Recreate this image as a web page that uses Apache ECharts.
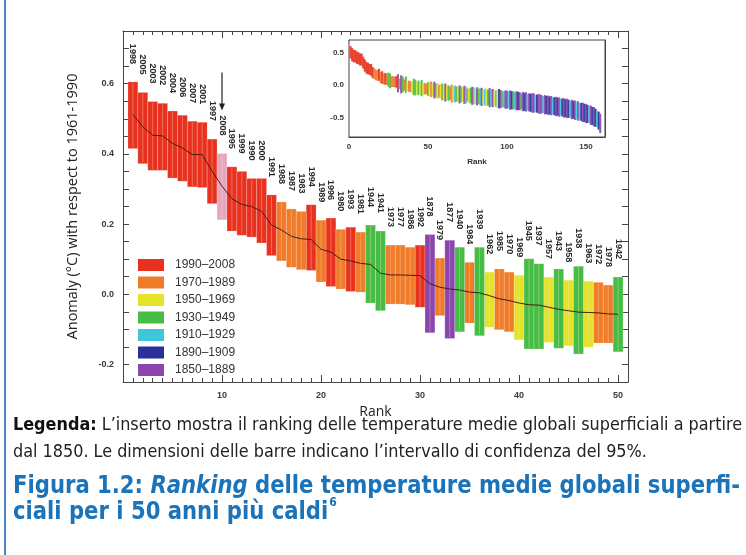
<!DOCTYPE html>
<html><head><meta charset="utf-8">
<script src="https://cdn.jsdelivr.net/npm/echarts@6/dist/echarts.min.js"></script>
<style>html,body{margin:0;padding:0;background:#fff}#c{width:746px;height:555px}</style>
</head><body><div id="c"></div>
<script>
// ===================== DATA =====================
const years = [1998,2005,2003,2002,2004,2006,2007,2001,1997,2008,
               1995,1999,1990,2000,1991,1988,1987,1983,1994,1989,
               1996,1980,1993,1981,1944,1941,1973,1977,1986,1992,
               1878,1979,1877,1940,1984,1939,1962,1985,1970,1969,
               1945,1937,1957,1943,1958,1938,1963,1972,1978,1942];
const upper = [0.605,0.575,0.549,0.544,0.522,0.510,0.493,0.490,0.442,0.401,
               0.363,0.350,0.330,0.330,0.283,0.263,0.243,0.236,0.255,0.211,
               0.217,0.185,0.191,0.177,0.197,0.180,0.140,0.140,0.134,0.140,
               0.170,0.103,0.154,0.134,0.091,0.134,0.063,0.072,0.063,0.054,
               0.101,0.087,0.049,0.072,0.040,0.080,0.037,0.034,0.026,0.049];
const center = [0.512,0.477,0.453,0.451,0.430,0.417,0.398,0.398,0.350,0.308,
                0.272,0.256,0.250,0.236,0.197,0.183,0.165,0.158,0.156,0.128,
                0.120,0.100,0.095,0.088,0.085,0.060,0.055,0.055,0.054,0.053,
                0.030,0.020,0.015,0.012,0.006,0.004,-0.004,-0.013,-0.018,-0.025,
                -0.030,-0.031,-0.037,-0.043,-0.047,-0.051,-0.052,-0.053,-0.056,-0.057];
const lower = [0.415,0.372,0.353,0.353,0.331,0.322,0.306,0.304,0.258,0.212,
               0.180,0.168,0.163,0.146,0.110,0.095,0.077,0.070,0.068,0.035,
               0.022,0.015,0.008,0.006,-0.025,-0.047,-0.028,-0.028,-0.030,-0.037,
               -0.110,-0.061,-0.126,-0.107,-0.082,-0.118,-0.094,-0.101,-0.107,-0.130,
               -0.156,-0.156,-0.137,-0.154,-0.147,-0.170,-0.151,-0.139,-0.139,-0.164];
const highlightYear = 2008;
const periodLabels = ['1990–2008','1970–1989','1950–1969','1930–1949','1910–1929','1890–1909','1850–1889'];
const periodStart  = [1990,1970,1950,1930,1910,1890,1850];

// inset: ranks 51..159 (ranks 1..50 come from the arrays above)
const insetCenterTail = [
 -0.060,-0.063,-0.069,-0.074,-0.079,-0.088,-0.092,-0.095,-0.104,-0.107,
 -0.112,-0.118,-0.120,-0.123,-0.129,-0.131,-0.134,-0.136,-0.138,-0.141,
 -0.142,-0.145,-0.148,-0.152,-0.153,-0.158,-0.160,-0.163,-0.164,-0.169,
 -0.171,-0.172,-0.177,-0.179,-0.181,-0.186,-0.188,-0.190,-0.191,-0.196,
 -0.198,-0.201,-0.206,-0.208,-0.209,-0.214,-0.216,-0.217,-0.221,-0.223,
 -0.226,-0.230,-0.231,-0.235,-0.238,-0.240,-0.242,-0.247,-0.249,-0.252,
 -0.256,-0.258,-0.263,-0.265,-0.270,-0.273,-0.275,-0.280,-0.284,-0.287,
 -0.291,-0.295,-0.297,-0.302,-0.304,-0.309,-0.313,-0.315,-0.320,-0.324,
 -0.328,-0.331,-0.337,-0.340,-0.343,-0.349,-0.355,-0.358,-0.364,-0.370,
 -0.375,-0.379,-0.386,-0.392,-0.397,-0.405,-0.412,-0.420,-0.427,-0.436,
 -0.444,-0.452,-0.463,-0.474,-0.486,-0.502,-0.521,-0.548,-0.590];
const insetHalfTail = [
 0.11,0.12,0.10,0.13,0.11,0.12,0.10,0.11,0.13,0.12,
 0.14,0.11,0.12,0.10,0.14,0.12,0.13,0.12,0.11,0.14,
 0.12,0.11,0.14,0.13,0.10,0.12,0.12,0.14,0.13,0.11,
 0.14,0.12,0.13,0.14,0.11,0.13,0.14,0.12,0.15,0.13,
 0.14,0.11,0.13,0.14,0.15,0.14,0.12,0.13,0.14,0.14,
 0.13,0.15,0.14,0.14,0.13,0.15,0.14,0.14,0.12,0.15,
 0.14,0.15,0.13,0.14,0.14,0.15,0.15,0.13,0.14,0.15,
 0.15,0.14,0.13,0.15,0.14,0.15,0.14,0.15,0.13,0.14,
 0.15,0.14,0.15,0.13,0.14,0.15,0.14,0.15,0.14,0.13,
 0.15,0.14,0.15,0.14,0.15,0.13,0.14,0.15,0.14,0.15,
 0.14,0.13,0.15,0.14,0.15,0.14,0.13,0.14,0.15];
const insetPeriodTail = [
 2,1,2,6,3,2,1,2,3,2,
 6,2,3,1,1,2,4,3,2,6,
 3,2,6,4,1,2,3,6,4,2,
 6,3,4,6,2,4,2,3,6,4,
 6,2,4,2,5,6,3,4,6,6,
 4,6,5,3,4,6,5,6,3,6,
 5,6,4,6,5,6,6,4,5,6,
 6,6,4,6,5,6,5,6,4,5,
 6,5,6,4,5,6,5,6,5,4,
 6,5,6,4,6,4,5,6,5,6,
 5,4,6,5,6,5,4,5,6];

const yAxisTitle = 'Anomaly (°C) with respect to 1961-1990';
const xAxisTitle = 'Rank';
const captionBold = 'Legenda:';
const captionRest1 = ' L’inserto mostra il ranking delle temperature medie globali superficiali a partire';
const captionLine2 = 'dal 1850. Le dimensioni delle barre indicano l’intervallo di confidenza del 95%.';
const titleA = 'Figura 1.2: ';
const titleB = 'Ranking';
const titleC = ' delle temperature medie globali superfi-';
const titleLine2 = 'ciali per i 50 anni più caldi';
const titleSup = '6';

// ===================== STYLE =====================
const periodColors = ['#e8311f','#f07b29','#e5e22a','#46bd44','#3fc6da','#2b2f98','#8a45ae'];
const highlightColor = '#e6a6c0';
const NARROW = '"Liberation Sans Narrow","DejaVu Sans Condensed","Liberation Sans",Arial,sans-serif';
const SANS = '"Liberation Sans",Arial,sans-serif';
const TITLE_BLUE = '#1b73ba';

function periodOf(y){ for (let i=0;i<periodStart.length;i++){ if (y>=periodStart[i]) return i; } return periodStart.length-1; }
function measure(str, font){ const c=document.createElement('canvas').getContext('2d'); c.font=font; return c.measureText(str).width; }

// ===================== BUILD =====================
const chart = echarts.init(document.getElementById('c'), null, {renderer:'canvas'});

const barSeries = periodLabels.map((name, p) => {
  const data = [];
  years.forEach((y, i) => { if (periodOf(y) === p) data.push([i+1, lower[i], upper[i], y]); });
  return {
    type:'custom', name, xAxisIndex:0, yAxisIndex:0, z:2,
    itemStyle:{color:periodColors[p]},
    encode:{x:0, y:[1,2]},
    data,
    renderItem(params, api){
      const r=api.value(0), lo=api.value(1), hi=api.value(2), yr=api.value(3);
      const a=api.coord([r-0.5, hi]), b=api.coord([r+0.5, lo]);
      const fill = yr===highlightYear ? highlightColor : periodColors[p];
      const cx=(a[0]+b[0])/2;
      return {type:'group', children:[
        {type:'rect', shape:{x:a[0], y:a[1], width:b[0]-a[0], height:b[1]-a[1]}, style:{fill, stroke:'rgba(255,255,255,0.35)', lineWidth:0.6}},
        {type:'line', shape:{x1:cx, y1:a[1]+1, x2:cx, y2:b[1]-1}, style:{stroke:'rgba(255,230,200,0.35)', lineWidth:1}}
      ]};
    }
  };
});

const labelSeries = {
  type:'custom', name:'labels', xAxisIndex:0, yAxisIndex:0, z:4, silent:true,
  encode:{x:0, y:1},
  data: years.map((y,i)=>[i+1, upper[i], y]),
  renderItem(params, api){
    const r=api.value(0), hi=api.value(1), yr=api.value(2);
    const p=api.coord([r, hi]);
    const gap=18;
    const kids=[{type:'text', x:p[0], y:p[1]-gap, rotation:-Math.PI/2,
      style:{text:String(yr), align:'right', verticalAlign:'middle', fontSize:9, fontWeight:'bold', fontFamily:SANS, fill:'#2a2a2a'}}];
    if (yr===highlightYear){
      const y2=p[1]-gap-25, y1=y2-38;
      kids.push({type:'line', shape:{x1:p[0], y1, x2:p[0], y2:y2-5}, style:{stroke:'#222', lineWidth:1.2}});
      kids.push({type:'polygon', shape:{points:[[p[0]-3,y2-7],[p[0]+3,y2-7],[p[0],y2]]}, style:{fill:'#222'}});
    }
    return {type:'group', children:kids};
  }
};

const centerLine = {
  type:'line', name:'centre', xAxisIndex:0, yAxisIndex:0, z:3, silent:true,
  data: center.map((v,i)=>[i+1, v]), symbol:'none',
  lineStyle:{color:'#4a1c10', width:1}
};

// inset
const insetData = [];
for (let i=0;i<years.length;i++) insetData.push([i+1, lower[i], upper[i], periodOf(years[i])]);
for (let j=0;j<insetCenterTail.length;j++) insetData.push([51+j, insetCenterTail[j]-insetHalfTail[j], insetCenterTail[j]+insetHalfTail[j], insetPeriodTail[j]]);
const insetSeries = {
  type:'custom', name:'inset', xAxisIndex:2, yAxisIndex:2, z:5, silent:true,
  encode:{x:0, y:[1,2]}, data:insetData,
  renderItem(params, api){
    const r=api.value(0), lo=api.value(1), hi=api.value(2), p=api.value(3);
    const a=api.coord([r-0.65, hi]), b=api.coord([r+0.65, lo]);
    return {type:'rect', shape:{x:a[0], y:a[1], width:b[0]-a[0], height:b[1]-a[1]}, style:{fill:periodColors[p], opacity:0.9}};
  }
};

const axisColor = '#444';
const tickLab = {color:'#3a3a3a', fontSize:9, fontWeight:'bold', fontFamily:SANS};
function yFmt(v){ const r=Math.round(v*100); if (r%20!==0) return ''; return (Math.abs(v)<1e-9?0:v).toFixed(1); }
function insetYFmt(v){ const r=Math.round(v*10); if (r%5!==0) return ''; return (Math.abs(v)<1e-9?0:v).toFixed(1); }

const mainX = (pos, showLab) => ({
  gridIndex:0, type:'value', min:0, max:51, interval:10, position:pos,
  axisLine:{onZero:false, lineStyle:{color:axisColor, width:1}},
  axisTick:{inside:true, length:7, lineStyle:{color:axisColor}},
  minorTick:{show:true, splitNumber:10, length:4, lineStyle:{color:axisColor}},
  splitLine:{show:false},
  axisLabel:{show:showLab, showMinLabel:false, showMaxLabel:false, margin:9, ...tickLab, formatter:v=>String(v)},
  name: showLab ? xAxisTitle : '', nameLocation:'middle', nameGap:22,
  nameTextStyle:{fontSize:14, color:'#222', fontFamily:'"Open Sans",sans-serif'}
});
const mainY = (pos, showLab) => ({
  gridIndex:0, type:'value', min:-0.25, max:0.75, interval:0.05, position:pos,
  axisLine:{onZero:false, lineStyle:{color:axisColor, width:1}},
  axisTick:{inside:true, length:6, lineStyle:{color:axisColor}},
  splitLine:{show:false},
  axisLabel:{show:showLab, margin:9, ...tickLab, formatter:yFmt},
  name: showLab ? yAxisTitle : '', nameLocation:'middle', nameGap:43, nameRotate:90,
  nameTextStyle:{fontSize:14.5, color:'#222', fontFamily:'"Open Sans",sans-serif'}
});
const insetX = (pos, showLab) => ({
  gridIndex:1, type:'value', min:0, max:162, interval:50, position:pos,
  axisLine:{onZero:false, lineStyle:{color:axisColor}},
  axisTick:{inside:true, length:4, lineStyle:{color:axisColor}},
  minorTick:{show:true, splitNumber:5, length:2, lineStyle:{color:axisColor}},
  splitLine:{show:false},
  axisLabel:{show:showLab, showMaxLabel:false, margin:6, color:'#3a3a3a', fontSize:8, fontWeight:'bold', fontFamily:SANS},
  name: showLab ? xAxisTitle : '', nameLocation:'middle', nameGap:21,
  nameTextStyle:{fontSize:8, fontWeight:'bold', color:'#333', fontFamily:SANS}
});
const insetY = (pos, showLab) => ({
  gridIndex:1, type:'value', min:-0.8, max:0.7, interval:0.1, position:pos,
  axisLine:{onZero:false, lineStyle:{color:axisColor}},
  axisTick:{inside:true, length:3, lineStyle:{color:axisColor}},
  splitLine:{show:false},
  axisLabel:{show:showLab, margin:5, color:'#3a3a3a', fontSize:8, fontWeight:'bold', fontFamily:SANS, formatter:insetYFmt}
});

// caption / title graphics with width fitting
const F_CAP = 17, F_TIT = 24;
const capW1 = measure(captionBold, `bold ${F_CAP}px ${NARROW}`) + measure(captionRest1, `${F_CAP}px ${NARROW}`);
const titW1 = measure(titleA, `bold ${F_TIT}px ${NARROW}`) + measure(titleB, `italic bold ${F_TIT}px ${NARROW}`) + measure(titleC, `bold ${F_TIT}px ${NARROW}`);
const titW2 = measure(titleLine2, `bold ${F_TIT}px ${NARROW}`);
const capScale = 729 / capW1;
const titScale = 727 / titW1;

const graphics = [
  {type:'line', shape:{x1:5, y1:0, x2:5, y2:555}, style:{stroke:'#4b86c6', lineWidth:2}, z:10},
  {type:'text', x:13, y:426, scaleX:capScale, style:{
     text:'{b|'+captionBold+'}{n|'+captionRest1+'}', verticalAlign:'middle',
     rich:{b:{fontWeight:'bold', fontSize:F_CAP, fontFamily:NARROW, fill:'#111'}, n:{fontSize:F_CAP, fontFamily:NARROW, fill:'#222'}}}},
  {type:'text', x:13, y:453, scaleX:capScale, style:{text:captionLine2, fontSize:F_CAP, fontFamily:NARROW, fill:'#222', verticalAlign:'middle'}},
  {type:'text', x:13, y:487, scaleX:titScale, style:{
     text:'{a|'+titleA+'}{b|'+titleB+'}{a|'+titleC+'}', verticalAlign:'middle',
     rich:{a:{fontWeight:'bold', fontSize:F_TIT, fontFamily:NARROW, fill:TITLE_BLUE}, b:{fontWeight:'bold', fontStyle:'italic', fontSize:F_TIT, fontFamily:NARROW, fill:TITLE_BLUE}}}},
  {type:'text', x:13, y:513, scaleX:titScale, style:{text:titleLine2, fontWeight:'bold', fontSize:F_TIT, fontFamily:NARROW, fill:TITLE_BLUE, verticalAlign:'middle'}},
  {type:'text', x:13 + titW2*titScale + 1, y:503, style:{text:titleSup, fontWeight:'bold', fontSize:12, fontFamily:NARROW, fill:TITLE_BLUE, verticalAlign:'middle'}}
];

chart.setOption({
  animation:false,
  backgroundColor:'#fff',
  grid:[
    {left:123, top:31, width:505, height:351, show:false},
    {left:349, top:40, width:256, height:97, show:true, backgroundColor:'#fff', borderColor:'#444', borderWidth:1, z:4}
  ],
  xAxis:[mainX('bottom', true), mainX('top', false), insetX('bottom', true), insetX('top', false)],
  yAxis:[mainY('left', true), mainY('right', false), insetY('left', true), insetY('right', false)],
  legend:{
    data:periodLabels, orient:'vertical', left:138, top:259, itemWidth:26, itemHeight:12, itemGap:5.5,
    icon:'rect', selectedMode:false, padding:0,
    textStyle:{fontSize:12, color:'#333', fontFamily:SANS, lineHeight:12, padding:[0,0,0,6]}
  },
  series:[...barSeries, centerLine, labelSeries, insetSeries],
  graphic:graphics
});
</script>
</body></html>
